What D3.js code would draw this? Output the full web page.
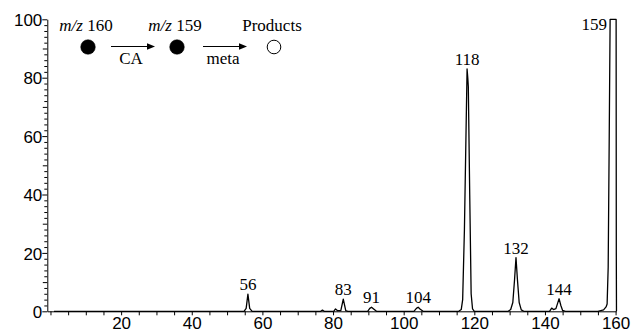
<!DOCTYPE html>
<html>
<head>
<meta charset="utf-8">
<script src="https://cdn.jsdelivr.net/npm/d3@7"></script>
<style>
  html, body { margin: 0; padding: 0; background: #fff; }
  svg { display: block; }
  .axis path, .axis line { stroke: #000; stroke-width: 1; }
  .axis text { font-family: "Liberation Sans", Arial, sans-serif; font-size: 17px; fill: #000; }
  .serif { font-family: "Liberation Serif", "Times New Roman", serif; font-size: 17px; fill: #000; }
</style>
</head>
<body>
<div id="chart"></div>
<script>
// CA / metastable spectrum of m/z 159 (relative abundance vs m/z)

// profile trace: m/z and relative intensity
const traceMz = [
  1, 54.8, 55.4, 55.9, 56.4, 57.1,
  76.5, 77.0, 77.5,
  80.2, 80.7, 81.3, 82.2, 82.9, 83.6, 84.2,
  89.8, 90.4, 90.9, 91.5, 92.3,
  102.9, 103.6, 104.1, 104.7, 105.5,
  115.6, 116.3, 116.7, 117.2, 117.95, 118.15, 118.3, 118.7, 119.1, 119.5, 120.0,
  129.6, 130.3, 130.9, 131.4, 131.8, 132.2, 132.7, 133.3, 134.0,
  141.3, 141.9, 142.4, 143.1, 143.6, 144.0, 144.5, 145.0, 145.8,
  155.0, 156.6, 157.3, 157.6, 157.9, 158.2, 158.45, 160.15, 160.2, 160.25
];
const traceInt = [
  0, 0, 1.0, 5.9, 1.0, 0,
  0, 0.4, 0,
  0, 0.8, 0.2, 0.2, 4.2, 0.2, 0,
  0, 1.0, 1.4, 0.8, 0,
  0, 1.0, 1.4, 0.7, 0,
  0, 0.6, 4, 28, 83, 80, 77, 40, 6, 0.8, 0,
  0, 0.6, 3, 11, 18.4, 11, 3, 0.5, 0,
  0, 1.1, 0.6, 0.9, 2.8, 4.3, 2.0, 0.3, 0,
  0, 0.5, 1.5, 2.5, 15, 60, 100, 100, 20, 0
];

// labelled peaks
const peakMz     = [55.9, 82.9, 90.9, 104.1, 117.95, 131.8, 144.0, 158.45];
const peakHeight = [5.9, 4.2, 1.4, 1.4, 83, 18.4, 4.3, 100];
const peakLabels = ['56', '83', '91', '104', '118', '132', '144', '159'];

// axis ticks
const xTickValues = [20, 40, 60, 80, 100, 120, 140, 160];
const yTickValues = [0, 20, 40, 60, 80, 100];

const W = 633, H = 333;
const margin = { top: 19.3, right: 16.7, bottom: 21.7, left: 47.3 };

const svg = d3.select('#chart')
  .append('svg')
  .attr('width', W)
  .attr('height', H);

const x = d3.scaleLinear()
  .domain([-0.9, 160.2])
  .range([margin.left, W - margin.right]);

const y = d3.scaleLinear()
  .domain([0, 100])
  .range([H - margin.bottom, margin.top]);

// x axis: minor ticks every 5, labels every 20
svg.append('g')
  .attr('class', 'axis')
  .attr('transform', `translate(0,${y(0)})`)
  .call(d3.axisBottom(x)
    .tickValues(d3.range(0, 161, 5))
    .tickSize(4)
    .tickSizeOuter(0)
    .tickFormat(d => xTickValues.includes(d) ? d : ''))
  .call(g => g.selectAll('text').attr('dy', null).attr('y', 18));

// y axis: minor every 2, medium every 10, labels every 20
const yAxis = svg.append('g')
  .attr('class', 'axis')
  .attr('transform', `translate(${margin.left},0)`);

yAxis.call(d3.axisLeft(y)
    .tickValues(d3.range(0, 101, 2))
    .tickSize(3)
    .tickSizeOuter(0)
    .tickFormat(d => yTickValues.includes(d) ? d : ''))
  .call(g => g.selectAll('.tick line')
    .attr('x2', d => yTickValues.includes(d) ? -5 : (d % 10 === 0 ? -4.5 : -3)))
  .call(g => g.selectAll('text').attr('x', -5).attr('dy', '0.36em'));

// spectrum trace
const points = traceMz.map((m, i) => [m, traceInt[i]]);
const line = d3.line()
  .x(d => x(d[0]))
  .y(d => y(d[1]));

svg.append('path')
  .datum(points)
  .attr('fill', 'none')
  .attr('stroke', '#000')
  .attr('stroke-width', 1.3)
  .attr('stroke-linejoin', 'round')
  .attr('d', line);

// peak labels
svg.selectAll('.peak-label')
  .data(peakMz)
  .enter()
  .append('text')
  .attr('class', 'serif peak-label')
  .attr('x', (d, i) => i === peakMz.length - 1 ? x(d) - 3 : x(d))
  .attr('y', (d, i) => i === peakMz.length - 1 ? y(peakHeight[i]) + 11 : y(peakHeight[i]) - 4)
  .attr('text-anchor', (d, i) => i === peakMz.length - 1 ? 'end' : 'middle')
  .text((d, i) => peakLabels[i]);

// reaction scheme in the top-left corner
const scheme = svg.append('g').attr('class', 'serif').style('font-size', '17px');

const ions = [
  { cx: 88, label: 'm/z', rest: ' 160', filled: true },
  { cx: 177, label: 'm/z', rest: ' 159', filled: true },
  { cx: 274, label: '', rest: 'Products', filled: false }
];

ions.forEach(ion => {
  const t = scheme.append('text')
    .attr('x', ion.cx - 2)
    .attr('y', 31)
    .attr('text-anchor', 'middle');
  if (ion.label) t.append('tspan').style('font-style', 'italic').text(ion.label);
  t.append('tspan').text(ion.rest);

  scheme.append('circle')
    .attr('cx', ion.cx)
    .attr('cy', 47)
    .attr('r', ion.filled ? 7.3 : 6.8)
    .attr('fill', ion.filled ? '#000' : '#fff')
    .attr('stroke', '#000')
    .attr('stroke-width', ion.filled ? 0.5 : 1);
});

const arrows = [
  { x1: 111, x2: 155, label: 'CA' },
  { x1: 203, x2: 247, label: 'meta' }
];

arrows.forEach(a => {
  scheme.append('line')
    .attr('x1', a.x1).attr('x2', a.x2 - 6)
    .attr('y1', 46.5).attr('y2', 46.5)
    .attr('stroke', '#000')
    .attr('stroke-width', 1.2);
  scheme.append('path')
    .attr('d', `M${a.x2},46.5 L${a.x2 - 8},43.3 L${a.x2 - 8},49.7 Z`)
    .attr('fill', '#000');
  scheme.append('text')
    .attr('x', (a.x1 + a.x2) / 2 - 2)
    .attr('y', 64)
    .attr('text-anchor', 'middle')
    .text(a.label);
});
</script>
</body>
</html>
